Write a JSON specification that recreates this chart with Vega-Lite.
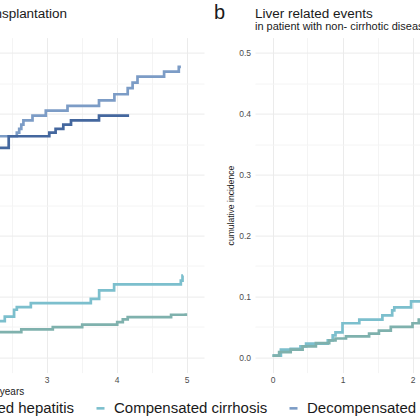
{
  "$schema": "https://vega.github.io/schema/vega-lite/v6.json",
  "autosize": {"type": "pad"},
  "padding": {"left": -210, "top": 2.6, "right": -220, "bottom": 0},
  "background": "white",
  "config": {
    "font": "Liberation Sans",
    "view": {"stroke": null},
    "axis": {"domain": false, "ticks": false, "labelColor": "#4d4d4d", "labelFontSize": 8.5, "labelFlush": false, "labelOverlap": false, "titleFontSize": 10, "titleFontWeight": "normal", "titleColor": "#1a1a1a"},
    "title": {"anchor": "start", "frame": "group", "fontSize": 13.5, "fontWeight": "normal", "color": "#1a1a1a", "subtitleFontSize": 11, "subtitleColor": "#1a1a1a", "subtitlePadding": 1, "offset": 5.5}
  },
  "title": {"text": "b", "anchor": "start", "frame": "group", "fontSize": 20, "fontWeight": "normal", "color": "#1a1a1a", "offset": -16.6, "dx": 395},
  "data": {"values": [
    {"panel": "a", "group": "Decompensated cirrhosis", "years": 0, "incidence": 0},
    {"panel": "a", "group": "Decompensated cirrhosis", "years": 0.15, "incidence": 0.07},
    {"panel": "a", "group": "Decompensated cirrhosis", "years": 0.4, "incidence": 0.14},
    {"panel": "a", "group": "Decompensated cirrhosis", "years": 0.8, "incidence": 0.2},
    {"panel": "a", "group": "Decompensated cirrhosis", "years": 1.2, "incidence": 0.25},
    {"panel": "a", "group": "Decompensated cirrhosis", "years": 1.7, "incidence": 0.3},
    {"panel": "a", "group": "Decompensated cirrhosis", "years": 2.1, "incidence": 0.34},
    {"panel": "a", "group": "Decompensated cirrhosis", "years": 2.3, "incidence": 0.363},
    {"panel": "a", "group": "Decompensated cirrhosis", "years": 2.576, "incidence": 0.369},
    {"panel": "a", "group": "Decompensated cirrhosis", "years": 2.61, "incidence": 0.375},
    {"panel": "a", "group": "Decompensated cirrhosis", "years": 2.64, "incidence": 0.382},
    {"panel": "a", "group": "Decompensated cirrhosis", "years": 2.67, "incidence": 0.389},
    {"panel": "a", "group": "Decompensated cirrhosis", "years": 2.8, "incidence": 0.397},
    {"panel": "a", "group": "Decompensated cirrhosis", "years": 2.99, "incidence": 0.405},
    {"panel": "a", "group": "Decompensated cirrhosis", "years": 3.3, "incidence": 0.413},
    {"panel": "a", "group": "Decompensated cirrhosis", "years": 3.75, "incidence": 0.422},
    {"panel": "a", "group": "Decompensated cirrhosis", "years": 3.97, "incidence": 0.432},
    {"panel": "a", "group": "Decompensated cirrhosis", "years": 4.16, "incidence": 0.442},
    {"panel": "a", "group": "Decompensated cirrhosis", "years": 4.23, "incidence": 0.451},
    {"panel": "a", "group": "Decompensated cirrhosis", "years": 4.3, "incidence": 0.461},
    {"panel": "a", "group": "Decompensated cirrhosis", "years": 4.68, "incidence": 0.469},
    {"panel": "a", "group": "Decompensated cirrhosis", "years": 4.89, "incidence": 0.477},
    {"panel": "a", "group": "Decompensated cirrhosis", "years": 4.92, "incidence": 0.477},
    {"panel": "a", "group": "Decompensated cirrhosis, subgroup", "years": 0, "incidence": 0},
    {"panel": "a", "group": "Decompensated cirrhosis, subgroup", "years": 0.1, "incidence": 0.06},
    {"panel": "a", "group": "Decompensated cirrhosis, subgroup", "years": 0.35, "incidence": 0.13},
    {"panel": "a", "group": "Decompensated cirrhosis, subgroup", "years": 0.7, "incidence": 0.19},
    {"panel": "a", "group": "Decompensated cirrhosis, subgroup", "years": 1.1, "incidence": 0.24},
    {"panel": "a", "group": "Decompensated cirrhosis, subgroup", "years": 1.6, "incidence": 0.29},
    {"panel": "a", "group": "Decompensated cirrhosis, subgroup", "years": 2.05, "incidence": 0.32},
    {"panel": "a", "group": "Decompensated cirrhosis, subgroup", "years": 2.25, "incidence": 0.344},
    {"panel": "a", "group": "Decompensated cirrhosis, subgroup", "years": 2.46, "incidence": 0.363},
    {"panel": "a", "group": "Decompensated cirrhosis, subgroup", "years": 3.04, "incidence": 0.369},
    {"panel": "a", "group": "Decompensated cirrhosis, subgroup", "years": 3.13, "incidence": 0.375},
    {"panel": "a", "group": "Decompensated cirrhosis, subgroup", "years": 3.24, "incidence": 0.382},
    {"panel": "a", "group": "Decompensated cirrhosis, subgroup", "years": 3.35, "incidence": 0.389},
    {"panel": "a", "group": "Decompensated cirrhosis, subgroup", "years": 3.75, "incidence": 0.397},
    {"panel": "a", "group": "Decompensated cirrhosis, subgroup", "years": 4.18, "incidence": 0.397},
    {"panel": "a", "group": "Compensated cirrhosis", "years": 0, "incidence": 0},
    {"panel": "a", "group": "Compensated cirrhosis", "years": 0.3, "incidence": 0.01},
    {"panel": "a", "group": "Compensated cirrhosis", "years": 0.8, "incidence": 0.025},
    {"panel": "a", "group": "Compensated cirrhosis", "years": 1.4, "incidence": 0.04},
    {"panel": "a", "group": "Compensated cirrhosis", "years": 2.0, "incidence": 0.052},
    {"panel": "a", "group": "Compensated cirrhosis", "years": 2.3, "incidence": 0.0595},
    {"panel": "a", "group": "Compensated cirrhosis", "years": 2.404, "incidence": 0.067},
    {"panel": "a", "group": "Compensated cirrhosis", "years": 2.537, "incidence": 0.0782},
    {"panel": "a", "group": "Compensated cirrhosis", "years": 2.576, "incidence": 0.0825},
    {"panel": "a", "group": "Compensated cirrhosis", "years": 2.776, "incidence": 0.089},
    {"panel": "a", "group": "Compensated cirrhosis", "years": 3.633, "incidence": 0.096},
    {"panel": "a", "group": "Compensated cirrhosis", "years": 3.752, "incidence": 0.11},
    {"panel": "a", "group": "Compensated cirrhosis", "years": 3.966, "incidence": 0.1197},
    {"panel": "a", "group": "Compensated cirrhosis", "years": 4.919, "incidence": 0.126},
    {"panel": "a", "group": "Compensated cirrhosis", "years": 4.943, "incidence": 0.1344},
    {"panel": "a", "group": "Compensated cirrhosis", "years": 4.95, "incidence": 0.1344},
    {"panel": "a", "group": "Uncomplicated hepatitis", "years": 0, "incidence": 0},
    {"panel": "a", "group": "Uncomplicated hepatitis", "years": 0.4, "incidence": 0.01},
    {"panel": "a", "group": "Uncomplicated hepatitis", "years": 0.9, "incidence": 0.02},
    {"panel": "a", "group": "Uncomplicated hepatitis", "years": 1.5, "incidence": 0.03},
    {"panel": "a", "group": "Uncomplicated hepatitis", "years": 2.1, "incidence": 0.0415},
    {"panel": "a", "group": "Uncomplicated hepatitis", "years": 2.64, "incidence": 0.0459},
    {"panel": "a", "group": "Uncomplicated hepatitis", "years": 3.09, "incidence": 0.0497},
    {"panel": "a", "group": "Uncomplicated hepatitis", "years": 3.51, "incidence": 0.0536},
    {"panel": "a", "group": "Uncomplicated hepatitis", "years": 4.01, "incidence": 0.058},
    {"panel": "a", "group": "Uncomplicated hepatitis", "years": 4.09, "incidence": 0.0623},
    {"panel": "a", "group": "Uncomplicated hepatitis", "years": 4.16, "incidence": 0.066},
    {"panel": "a", "group": "Uncomplicated hepatitis", "years": 4.78, "incidence": 0.07},
    {"panel": "a", "group": "Uncomplicated hepatitis", "years": 4.99, "incidence": 0.0726},
    {"panel": "b", "group": "Compensated cirrhosis", "years": 0, "incidence": 0.003},
    {"panel": "b", "group": "Compensated cirrhosis", "years": 0.12, "incidence": 0.0126},
    {"panel": "b", "group": "Compensated cirrhosis", "years": 0.26, "incidence": 0.014},
    {"panel": "b", "group": "Compensated cirrhosis", "years": 0.4, "incidence": 0.018},
    {"panel": "b", "group": "Compensated cirrhosis", "years": 0.48, "incidence": 0.0225},
    {"panel": "b", "group": "Compensated cirrhosis", "years": 0.79, "incidence": 0.028},
    {"panel": "b", "group": "Compensated cirrhosis", "years": 0.86, "incidence": 0.036},
    {"panel": "b", "group": "Compensated cirrhosis", "years": 0.9, "incidence": 0.041},
    {"panel": "b", "group": "Compensated cirrhosis", "years": 1.0, "incidence": 0.056},
    {"panel": "b", "group": "Compensated cirrhosis", "years": 1.24, "incidence": 0.062},
    {"panel": "b", "group": "Compensated cirrhosis", "years": 1.57, "incidence": 0.069},
    {"panel": "b", "group": "Compensated cirrhosis", "years": 1.71, "incidence": 0.077},
    {"panel": "b", "group": "Compensated cirrhosis", "years": 1.74, "incidence": 0.082},
    {"panel": "b", "group": "Compensated cirrhosis", "years": 1.98, "incidence": 0.092},
    {"panel": "b", "group": "Compensated cirrhosis", "years": 2.45, "incidence": 0.1},
    {"panel": "b", "group": "Compensated cirrhosis", "years": 3.1, "incidence": 0.11},
    {"panel": "b", "group": "Compensated cirrhosis", "years": 3.8, "incidence": 0.118},
    {"panel": "b", "group": "Compensated cirrhosis", "years": 4.5, "incidence": 0.126},
    {"panel": "b", "group": "Compensated cirrhosis", "years": 5.0, "incidence": 0.126},
    {"panel": "b", "group": "Uncomplicated hepatitis", "years": 0, "incidence": 0.003},
    {"panel": "b", "group": "Uncomplicated hepatitis", "years": 0.095, "incidence": 0.0087},
    {"panel": "b", "group": "Uncomplicated hepatitis", "years": 0.26, "incidence": 0.0126},
    {"panel": "b", "group": "Uncomplicated hepatitis", "years": 0.43, "incidence": 0.018},
    {"panel": "b", "group": "Uncomplicated hepatitis", "years": 0.62, "incidence": 0.0235},
    {"panel": "b", "group": "Uncomplicated hepatitis", "years": 0.81, "incidence": 0.028},
    {"panel": "b", "group": "Uncomplicated hepatitis", "years": 0.9, "incidence": 0.031},
    {"panel": "b", "group": "Uncomplicated hepatitis", "years": 1.05, "incidence": 0.0344},
    {"panel": "b", "group": "Uncomplicated hepatitis", "years": 1.38, "incidence": 0.039},
    {"panel": "b", "group": "Uncomplicated hepatitis", "years": 1.52, "incidence": 0.044},
    {"panel": "b", "group": "Uncomplicated hepatitis", "years": 1.69, "incidence": 0.05},
    {"panel": "b", "group": "Uncomplicated hepatitis", "years": 2.0, "incidence": 0.056},
    {"panel": "b", "group": "Uncomplicated hepatitis", "years": 2.09, "incidence": 0.062},
    {"panel": "b", "group": "Uncomplicated hepatitis", "years": 2.6, "incidence": 0.068},
    {"panel": "b", "group": "Uncomplicated hepatitis", "years": 3.3, "incidence": 0.075},
    {"panel": "b", "group": "Uncomplicated hepatitis", "years": 4.1, "incidence": 0.082},
    {"panel": "b", "group": "Uncomplicated hepatitis", "years": 5.0, "incidence": 0.082}
  ]},
  "spacing": 22,
  "hconcat": [
    {
      "width": 385, "height": 335,
      "title": {"text": "Liver related death or liver transplantation", "subtitle": "in patient with cirrhotic disease"},
      "transform": [{"filter": "datum.panel == 'a'"}],
      "mark": {"type": "line", "interpolate": "step-after", "strokeWidth": 2.7},
      "encoding": {
        "x": {"field": "years", "type": "quantitative", "scale": {"domain": [-0.25, 5.25], "nice": false, "zero": false},
          "axis": {"title": "years", "values": [0, 0.5, 1, 1.5, 2, 2.5, 3, 3.5, 4, 4.5, 5], "labelExpr": "datum.value % 1 === 0 ? format(datum.value, 'd') : ''", "labelPadding": 3, "titlePadding": 2, "gridColor": {"condition": {"test": "datum.value % 1 === 0", "value": "#ebebeb"}, "value": "#f4f4f4"}}},
        "y": {"field": "incidence", "type": "quantitative", "scale": {"domain": [-0.025, 0.525], "nice": false, "zero": false},
          "axis": {"title": "cumulative incidence", "titleFontSize": 8.6, "values": [0, 0.05, 0.1, 0.15, 0.2, 0.25, 0.3, 0.35, 0.4, 0.45, 0.5], "labelExpr": "abs(round(datum.value * 10) - datum.value * 10) < 0.001 ? format(datum.value, '.1f') : ''", "labelPadding": 4.5, "titlePadding": 3.5, "gridColor": {"condition": {"test": "abs(round(datum.value * 10) - datum.value * 10) < 0.001", "value": "#ebebeb"}, "value": "#f4f4f4"}}},
        "color": {"field": "group", "type": "nominal",
          "scale": {"domain": ["Uncomplicated hepatitis", "Compensated cirrhosis", "Decompensated cirrhosis", "Decompensated cirrhosis, subgroup"], "range": ["#7fb1ad", "#7cbfcd", "#7c9cc6", "#44679e"]},
          "legend": {"values": ["Uncomplicated hepatitis", "Compensated cirrhosis", "Decompensated cirrhosis"], "title": null, "orient": "none", "direction": "horizontal", "legendX": 75, "legendY": 363, "symbolType": "stroke", "symbolSize": 64, "symbolStrokeWidth": 2.6, "labelFontSize": 15, "labelColor": "#1a1a1a", "labelOffset": 6, "columnPadding": 16, "labelLimit": 400}}
      }
    },
    {
      "width": 385, "height": 335,
      "title": {"text": "Liver related events", "subtitle": "in patient with non- cirrhotic disease"},
      "transform": [{"filter": "datum.panel == 'b'"}],
      "mark": {"type": "line", "interpolate": "step-after", "strokeWidth": 2.7},
      "encoding": {
        "x": {"field": "years", "type": "quantitative", "scale": {"domain": [-0.25, 5.25], "nice": false, "zero": false},
          "axis": {"title": "years", "values": [0, 0.5, 1, 1.5, 2, 2.5, 3, 3.5, 4, 4.5, 5], "labelExpr": "datum.value % 1 === 0 ? format(datum.value, 'd') : ''", "labelPadding": 3, "titlePadding": 2, "gridColor": {"condition": {"test": "datum.value % 1 === 0", "value": "#ebebeb"}, "value": "#f4f4f4"}}},
        "y": {"field": "incidence", "type": "quantitative", "scale": {"domain": [-0.025, 0.525], "nice": false, "zero": false},
          "axis": {"title": "cumulative incidence", "titleFontSize": 8.6, "values": [0, 0.05, 0.1, 0.15, 0.2, 0.25, 0.3, 0.35, 0.4, 0.45, 0.5], "labelExpr": "abs(round(datum.value * 10) - datum.value * 10) < 0.001 ? format(datum.value, '.1f') : ''", "labelPadding": 4.5, "titlePadding": 3.5, "gridColor": {"condition": {"test": "abs(round(datum.value * 10) - datum.value * 10) < 0.001", "value": "#ebebeb"}, "value": "#f4f4f4"}}},
        "color": {"field": "group", "type": "nominal",
          "scale": {"domain": ["Uncomplicated hepatitis", "Compensated cirrhosis", "Decompensated cirrhosis", "Decompensated cirrhosis, subgroup"], "range": ["#7fb1ad", "#7cbfcd", "#7c9cc6", "#44679e"]},
          "legend": {"values": ["Uncomplicated hepatitis", "Compensated cirrhosis", "Decompensated cirrhosis"], "title": null, "orient": "none", "direction": "horizontal", "legendX": 75, "legendY": 363, "symbolType": "stroke", "symbolSize": 64, "symbolStrokeWidth": 2.6, "labelFontSize": 15, "labelColor": "#1a1a1a", "labelOffset": 6, "columnPadding": 16, "labelLimit": 400}}
      }
    }
  ]
}
